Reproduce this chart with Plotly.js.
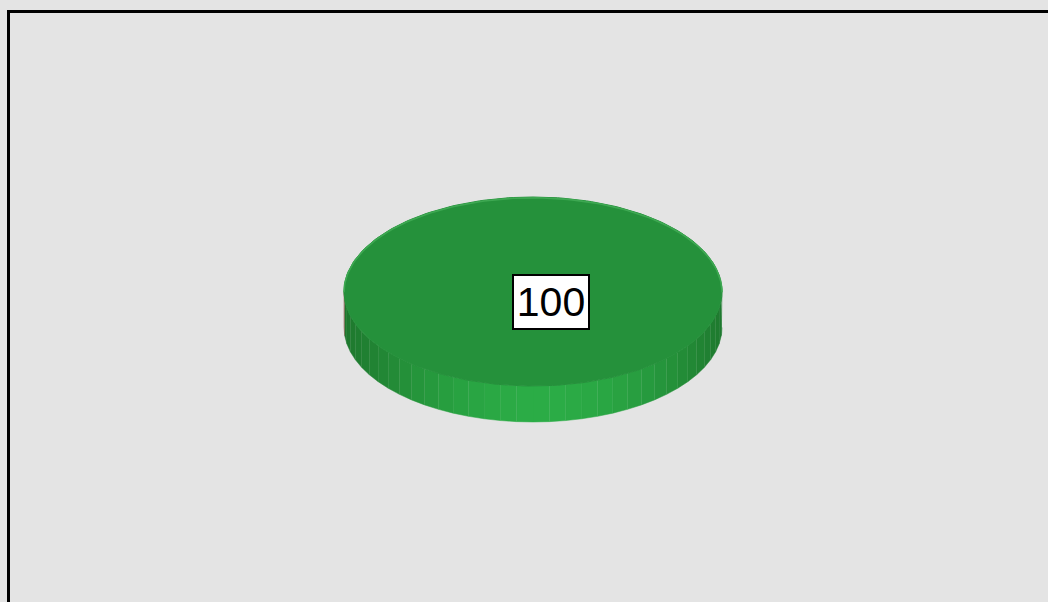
<!DOCTYPE html>
<html>
<head>
<meta charset="utf-8">
<script src="https://cdn.plot.ly/plotly-3.0.1.min.js"></script>
<style>html,body{margin:0;padding:0;background:#e4e4e4;}#chart{width:1048px;height:602px;}</style>
</head>
<body>
<div id="chart"></div>
<script>
// ---- data ----
const categories = ['Series 1'];
const values = [100];
const labels = ['100'];

// ---- geometry (pixel space) ----
const W = 1048, H = 602;
const CX = 533, CY = 291.5, RX = 189, RY = 94.5, DEPTH = 36;
const topColor = 'rgb(37,145,59)';
const rimColor = 'rgb(62,168,82)';
const darkSide = [30,120,46], brightSide = [43,172,70];

function pt(theta, dy) { return [CX + RX * Math.cos(theta), CY + RY * Math.sin(theta) + (dy || 0)]; }

const total = values.reduce((a, b) => a + b, 0);
const traces = [];
let start = -Math.PI / 2;
const slices = values.map((v, i) => {
  const a0 = start, a1 = start + 2 * Math.PI * v / total;
  start = a1;
  return {a0, a1, v, i};
});

// side strips (front half only)
const NS = 36;
slices.forEach(s => {
  for (let k = 0; k < NS; k++) {
    let t0 = Math.PI * k / NS, t1 = Math.PI * (k + 1) / NS;
    const norm = a => { let x = a; while (x < s.a0) x += 2*Math.PI; return x; };
    if (s.a1 - s.a0 < 2*Math.PI - 1e-9) {
      const n0 = norm(t0), n1 = norm(t1);
      if (n0 > s.a1 && n1 > s.a1) continue;
    }
    const mid = (t0 + t1) / 2;
    const f = Math.pow(Math.sin(mid + 0.05), 2.2);
    const c = darkSide.map((d, j) => Math.round(d + (brightSide[j] - d) * f));
    const xs = [], ys = [];
    const m = 4;
    for (let q = 0; q <= m; q++) { const p = pt(t0 + (t1 - t0) * q / m); xs.push(p[0]); ys.push(p[1]); }
    for (let q = m; q >= 0; q--) { const p = pt(t0 + (t1 - t0) * q / m, DEPTH); xs.push(p[0]); ys.push(p[1]); }
    const col = 'rgb(' + c.join(',') + ')';
    traces.push({x: xs, y: ys, type: 'scatter', mode: 'lines', fill: 'toself', fillcolor: col,
      line: {color: col, width: 0.5}, hoverinfo: 'skip', showlegend: false});
  }
});

// top faces
slices.forEach(s => {
  const xs = [], ys = [];
  const full = (s.a1 - s.a0) >= 2*Math.PI - 1e-9;
  if (!full) { xs.push(CX); ys.push(CY); }
  const n = 240;
  for (let q = 0; q <= n; q++) { const p = pt(s.a0 + (s.a1 - s.a0) * q / n); xs.push(p[0]); ys.push(p[1]); }
  traces.push({x: xs, y: ys, type: 'scatter', mode: 'lines', fill: 'toself', fillcolor: topColor,
    line: {color: topColor, width: 1}, hoverinfo: 'skip', showlegend: false, name: categories[s.i]});
  const rx = [], ry = [];
  for (let q = 0; q <= 120; q++) { const p = pt(Math.PI + Math.PI * q / 120); rx.push(p[0]); ry.push(p[1] + 0.8); }
  traces.push({x: rx, y: ry, type: 'scatter', mode: 'lines', line: {color: rimColor, width: 1.6},
    hoverinfo: 'skip', showlegend: false});
});

const annotations = slices.map(s => ({
  x: CX + 18, y: CY + 10.5, xref: 'x', yref: 'y', showarrow: false,
  text: labels[s.i], font: {family: 'Arial', size: 41, color: '#000'},
  bgcolor: '#ffffff', bordercolor: '#000000', borderwidth: 2, borderpad: 0, width: 74, height: 52
}));

const layout = {
  width: W, height: H, margin: {l: 0, r: 0, t: 0, b: 0},
  paper_bgcolor: '#e4e4e4', plot_bgcolor: '#e4e4e4', showlegend: false,
  font: {family: 'Arial'},
  xaxis: {range: [0, W], visible: false, fixedrange: true},
  yaxis: {range: [H, 0], visible: false, fixedrange: true},
  shapes: [{type: 'rect', xref: 'x', yref: 'y', x0: 8.5, y0: 11.5, x1: W + 20, y1: H + 20,
    line: {color: '#000', width: 3}, fillcolor: 'rgba(0,0,0,0)'}],
  annotations: annotations
};
Plotly.newPlot('chart', traces, layout, {staticPlot: true, displayModeBar: false});
</script>
</body>
</html>
